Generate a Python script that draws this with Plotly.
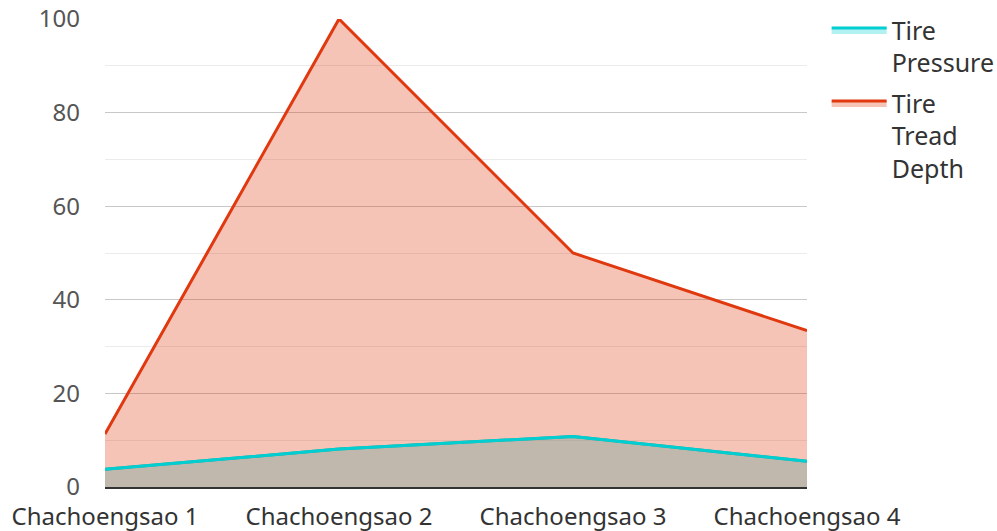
import plotly.graph_objects as go

categories = ["Chachoengsao 1", "Chachoengsao 2", "Chachoengsao 3", "Chachoengsao 4"]
tire_pressure = [3.8, 8.1, 10.8, 5.5]
tire_tread_depth = [11.3, 100, 50, 33.4]

x_idx = list(range(len(categories)))
cyan = "#00ced1"
red = "#e0380f"

fig = go.Figure()
fig.add_trace(go.Scatter(
    x=x_idx, y=tire_pressure, name="Tire<br>Pressure", mode="lines",
    line=dict(color=cyan, width=3), fill="tozeroy", legendgroup="p",
    fillcolor="rgba(0,206,209,0.3)", hoverinfo="skip"))
fig.add_trace(go.Scatter(
    x=x_idx, y=tire_tread_depth, name="Tire<br>Tread<br>Depth", mode="lines",
    line=dict(color=red, width=3), fill="tozeroy", legendgroup="t",
    fillcolor="rgba(224,56,15,0.3)"))
fig.add_trace(go.Scatter(
    x=x_idx, y=tire_pressure, name="Tire Pressure", mode="lines",
    line=dict(color=cyan, width=3), showlegend=False, legendgroup="p"))

fig.update_layout(
    width=997, height=531,
    margin=dict(l=105, r=190, t=19, b=44, autoexpand=False),
    paper_bgcolor="white", plot_bgcolor="white",
    font=dict(family="Noto Sans", size=24, color="#444"),
    showlegend=True,
    legend=dict(x=1.028, y=1.025, xanchor="left", yanchor="top",
                itemwidth=55, valign="top", tracegroupgap=5,
                font=dict(size=25, color="#333"),
                bgcolor="rgba(0,0,0,0)"),
    xaxis=dict(
        tickmode="array", tickvals=x_idx, ticktext=categories,
        range=[0, 3], showgrid=False, zeroline=False, automargin=False,
        showline=True, linecolor="#333", linewidth=2,
        ticks="", ticklabelstandoff=7, tickfont=dict(size=24, color="#333")),
    yaxis=dict(
        range=[0, 100], dtick=20, showgrid=True, gridcolor="#c8c8c8",
        gridwidth=1, zeroline=False, showline=False, ticks="", automargin=False,
        ticklabelstandoff=24,
        tickfont=dict(size=24, color="#555"),
        minor=dict(dtick=10, showgrid=True, gridcolor="#ebebeb", gridwidth=1)),
)

fig.write_html("out.html", config={"displayModeBar": False},
               post_script="document.body.style.margin='0';")
